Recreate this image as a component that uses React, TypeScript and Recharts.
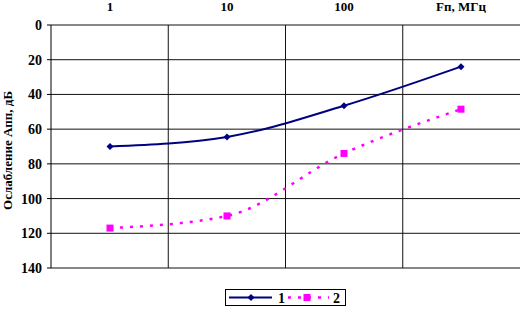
import { LineChart, Line, XAxis, YAxis, CartesianGrid, Legend, Label } from 'recharts'

// attenuation vs frequency
const freqLabels = ['1', '10', '100', 'Fп, МГц']
const series1 = [70, 64.5, 46.5, 24]
const series2 = [117, 110, 74, 48.5]
const yTicks = [0, 20, 40, 60, 80, 100, 120, 140]
const seriesNames = ['1', '2']

const data = freqLabels.map((f, i) => ({ f, s1: series1[i], s2: series2[i] }))

const FONT = '"Liberation Serif", "Times New Roman", serif'
const NAVY = '#000080'
const MAGENTA = '#ff00ff'

const Diamond = ({ cx, cy, size = 4, fill }: any) => {
  if (cx == null || cy == null) return null
  return <path d={`M${cx},${cy - size}L${cx + size},${cy}L${cx},${cy + size}L${cx - size},${cy}Z`} fill={fill} />
}

const Square = ({ cx, cy, size = 4, fill }: any) => {
  if (cx == null || cy == null) return null
  return <rect x={cx - size} y={cy - size} width={size * 2} height={size * 2} fill={fill} />
}

const LegendBox = () => (
  <div style={{ border: '1px solid #000', background: '#fff', width: 121, height: 17, boxSizing: 'border-box' }}>
    <svg width={119} height={15} style={{ display: 'block' }}>
      <line x1={3} x2={46} y1={7.5} y2={7.5} stroke={NAVY} strokeWidth={2} />
      <Diamond cx={25} cy={7.5} size={3.5} fill={NAVY} />
      <text x={52} y={12.5} fontFamily={FONT} fontWeight="bold" fontSize={14}>{seriesNames[0]}</text>
      <line x1={62} x2={103} y1={7.5} y2={7.5} stroke={MAGENTA} strokeWidth={2.5} strokeDasharray="3 7" />
      <Square cx={81} cy={7.5} size={3.5} fill={MAGENTA} />
      <text x={107} y={12.5} fontFamily={FONT} fontWeight="bold" fontSize={14}>{seriesNames[1]}</text>
    </svg>
  </div>
)

export default function App() {
  return (
    <div style={{ position: 'fixed', left: 0, top: 0, width: 520, height: 316, background: '#fff' }}>
      <LineChart width={520} height={316} data={data} margin={{ top: 0, right: 0, bottom: 48, left: 0 }}>
        <CartesianGrid
          stroke="#111"
          strokeWidth={1}
          verticalCoordinatesGenerator={({ offset }: any) => [1, 2, 3].map(i => offset.left + (offset.width * i) / 4)}
        />
        <XAxis
          dataKey="f"
          orientation="top"
          height={25}
          axisLine={false}
          tickLine={false}
          tickSize={0}
          tickMargin={14}
          padding={{ left: 59, right: 59 }}
          tick={{ fontFamily: FONT, fontWeight: 'bold', fontSize: 13, fill: '#000' }}
        />
        <YAxis
          reversed
          domain={[0, 140]}
          ticks={yTicks}
          width={51}
          interval={0}
          axisLine={{ stroke: '#000' }}
          tickLine={{ stroke: '#000' }}
          tickSize={4}
          tickMargin={5}
          tick={{ fontFamily: FONT, fontWeight: 'bold', fontSize: 14, fill: '#000' }}
        >
          <Label
            content={({ viewBox }: any) => {
              const cx = viewBox.x + 12
              const cy = viewBox.y + viewBox.height / 2 + 4
              return (
                <text x={cx} y={cy} transform={`rotate(-90 ${cx} ${cy})`} textAnchor="middle" fontFamily={FONT} fontWeight="bold" fontSize={13} fill="#000">
                  Ослабление Aпп, дБ
                </text>
              )
            }}
          />
        </YAxis>
        <Line
          dataKey="s1"
          name={seriesNames[0]}
          type="monotone"
          stroke={NAVY}
          strokeWidth={2}
          dot={<Diamond size={3.5} fill={NAVY} />}
          isAnimationActive={false}
        />
        <Line
          dataKey="s2"
          name={seriesNames[1]}
          type="monotone"
          stroke={MAGENTA}
          strokeWidth={2.5}
          strokeDasharray="3 7"
          dot={<Square size={3.5} fill={MAGENTA} />}
          isAnimationActive={false}
        />
        <Legend
          layout="horizontal"
          verticalAlign="middle"
          align="center"
          content={() => <LegendBox />}
          wrapperStyle={{ left: 225, top: 289, width: 121, height: 17 }}
        />
      </LineChart>
    </div>
  )
}
